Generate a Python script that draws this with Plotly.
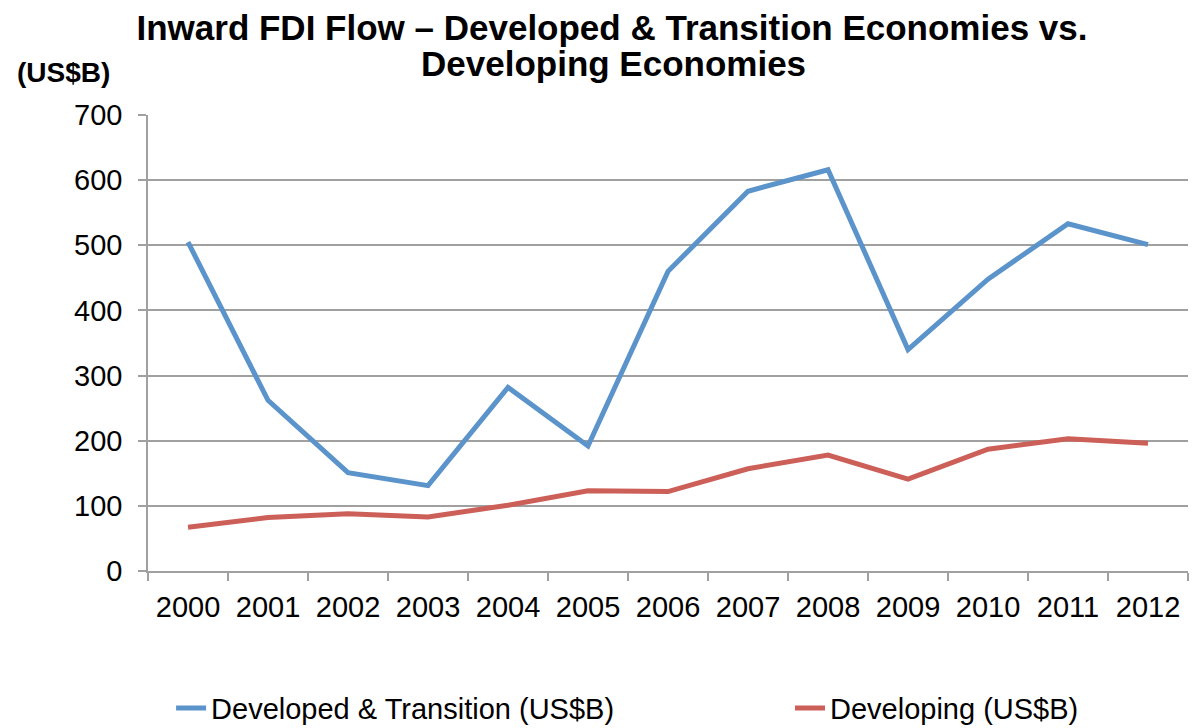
import plotly.graph_objects as go

# data ----------------------------------------------------------------------------------------------------------------
years = ['2000', '2001', '2002', '2003', '2004', '2005', '2006',
         '2007', '2008', '2009', '2010', '2011', '2012']
developed = [505, 262, 151, 131, 282, 192, 460, 583, 616, 340, 448, 533, 501]
developing = [67, 82, 88, 83, 101, 123, 122, 157, 178, 141, 187, 203, 196]

font_family = 'Liberation Sans, Arial, sans-serif'
grid_color = '#a0a0a0'

fig = go.Figure()

# Plot 01 -------------------------------------------------------------------------------------------------------------
fig.add_scatter(
    x=years,
    y=developed,
    mode='lines',
    name='Developed & Transition (US$B)',
    line=dict(color='#5b93cb', width=5),
    legend='legend'
)

# Plot 02 -------------------------------------------------------------------------------------------------------------
fig.add_scatter(
    x=years,
    y=developing,
    mode='lines',
    name='Developing (US$B)',
    line=dict(color='#cc5f58', width=5),
    legend='legend2'
)

# Site properties -----------------------------------------------------------------------------------------------------
legend_style = dict(
    orientation='h',
    xanchor='left',
    y=-0.301,
    yanchor='middle',
    font=dict(size=29),
    bgcolor='rgba(0,0,0,0)'
)

fig.update_layout(
    width=1200,
    height=728,
    margin=dict(l=148, r=12, t=115, b=157, autoexpand=False),
    paper_bgcolor='white',
    plot_bgcolor='white',
    font=dict(family=font_family, size=29, color='black'),
    title=dict(
        text='<b>Inward FDI Flow \u2013 Developed & Transition Economies vs.</b>',
        x=0.51,
        xanchor='center',
        yref='container',
        y=1 - 28 / 728,
        yanchor='middle',
        font=dict(size=35, family=font_family)
    ),
    showlegend=True,
    legend=dict(x=0.0222, **legend_style),
    legend2=dict(x=0.6173, **legend_style),
    xaxis=dict(
        type='category',
        range=[-0.5, 12.5],
        tickson='boundaries',
        ticks='outside',
        ticklen=8,
        tickcolor=grid_color,
        tickwidth=1.5,
        ticklabelstandoff=9,
        showline=True,
        linecolor=grid_color,
        linewidth=1.5,
        showgrid=False,
        tickfont=dict(size=29)
    ),
    yaxis=dict(
        range=[0, 700],
        dtick=100,
        ticks='outside',
        ticklen=8,
        tickcolor=grid_color,
        tickwidth=1.5,
        ticklabelstandoff=10,
        showline=True,
        linecolor=grid_color,
        linewidth=1.5,
        showgrid=True,
        gridcolor=grid_color,
        gridwidth=1.5,
        zeroline=False,
        tickfont=dict(size=29)
    ),
    annotations=[
        dict(
            text='<b>Developing Economies</b>',
            xref='paper', yref='paper',
            x=0.4475, y=(571 - 63) / 456,
            xanchor='center', yanchor='middle',
            showarrow=False,
            font=dict(size=35, family=font_family)
        ),
        dict(
            text='<b>(US$B)</b>',
            xref='paper', yref='paper',
            x=(15 - 148) / 1040, y=(571 - 72) / 456,
            xanchor='left', yanchor='middle',
            showarrow=False,
            font=dict(size=28, family=font_family)
        )
    ]
)

# drop the page's default body margin so the figure sits at the top-left corner
fig.write_html('out.html', config={'displayModeBar': False},
               post_script="document.body.style.margin='0';")
